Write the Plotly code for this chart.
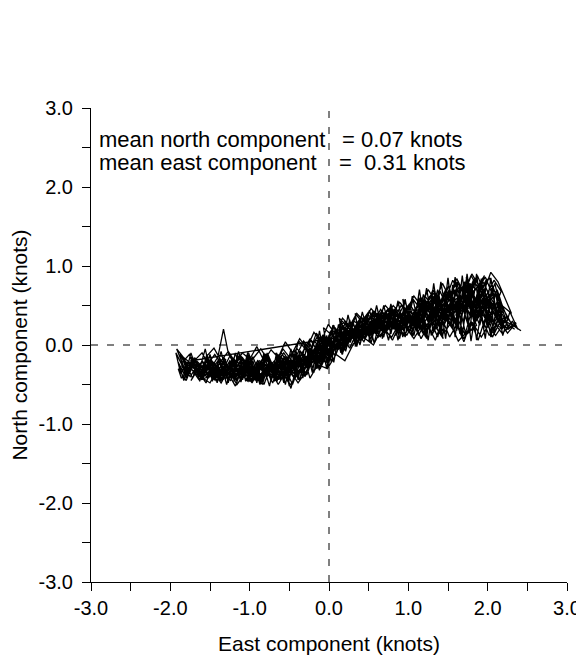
import plotly.graph_objects as go

# ---- data: current velocity components (knots) ----
east_a = [-1.92,-1.85,-1.76,-1.68,-1.6,-1.52,-1.41,-1.33,-1.22,-1.14,-1.03,-0.94,-0.85,-0.74,-0.66,-0.55,-0.46,-0.36,-0.27,-0.18,-0.08,0.03,0.14,0.26,0.37,0.49,0.61,0.72,0.85,0.97,1.1,1.22,1.35,1.47,1.6,1.71,1.83,1.94,2.05,2.12]
north_a = [-0.05,-0.22,-0.12,-0.35,-0.2,-0.42,-0.25,-0.38,-0.18,-0.33,-0.45,-0.28,-0.4,-0.22,-0.36,-0.15,-0.3,-0.08,-0.2,0.05,-0.1,0.15,0.02,0.25,0.12,0.3,0.18,0.38,0.22,0.45,0.28,0.55,0.32,0.65,0.42,0.72,0.5,0.8,0.58,0.7]
east_b = [2.2,2.31,2.18,2.05,1.92,1.81,1.7,1.58,1.45,1.33,1.2,1.08,0.95,0.83,0.7,0.58,0.45,0.33,0.2,0.08,-0.05,-0.17,-0.3,-0.42,-0.53,-0.65,-0.78,-0.9,-1.02,-1.15,-1.27,-1.4,-1.52,-1.63,-1.74,-1.66,-1.55]
north_b = [0.45,0.25,0.15,0.32,0.1,0.28,0.08,0.35,0.15,0.4,0.2,0.35,0.12,0.3,0.18,0.26,0.08,0.2,-0.02,0.1,-0.15,-0.02,-0.25,-0.12,-0.35,-0.2,-0.4,-0.25,-0.46,-0.3,-0.42,-0.2,-0.38,-0.25,-0.45,-0.32,-0.48]
east_c = [-1.48,-1.37,-1.28,-1.16,-1.05,-0.97,-0.88,-0.76,-0.64,-0.52,-0.44,-0.33,-0.21,-0.11,0.0,0.1,0.22,0.35,0.46,0.58,0.7,0.82,0.93,1.05,1.16,1.28,1.4,1.52,1.63,1.75,1.87,1.98,2.08,2.17,2.1]
north_c = [-0.28,-0.45,-0.3,-0.5,-0.35,-0.2,-0.38,-0.28,-0.5,-0.3,-0.42,-0.25,-0.12,-0.3,-0.05,0.08,-0.02,0.2,0.28,0.15,0.35,0.25,0.48,0.3,0.5,0.22,0.68,0.4,0.78,0.55,0.88,0.62,0.82,0.68,0.5]
east_d = [2.0,1.9,1.78,1.86,1.72,1.6,1.65,1.5,1.38,1.44,1.3,1.18,1.05,0.92,0.8,0.68,0.55,0.42,0.3,0.18,0.06,-0.06,-0.19,-0.31,-0.44,-0.56,-0.69,-0.8,-0.92,-1.04,-1.17,-1.29,-1.41,-1.53,-1.64,-1.76,-1.82]
north_d = [0.35,0.6,0.45,0.25,0.12,0.38,0.62,0.5,0.28,0.08,0.3,0.45,0.25,0.4,0.22,0.32,0.15,0.28,0.1,0.22,0.0,0.08,-0.12,-0.05,-0.28,-0.15,-0.32,-0.12,-0.3,-0.2,-0.4,-0.25,-0.35,-0.18,-0.4,-0.28,-0.38]
east_e = [-1.7,-1.6,-1.49,-1.4,-1.33,-1.27,-1.18,-1.08,-0.98,-0.86,-0.77,-0.67,-0.58,-0.5,-0.4,-0.3,-0.24,-0.14,-0.02,0.09,0.2,0.31,0.43,0.56,0.67,0.79,0.9,1.02,1.14,1.26,1.37,1.49,1.61,1.72,1.84,1.95,2.07,2.16,2.24,2.33,2.42,2.3]
north_e = [-0.2,-0.1,-0.3,-0.15,0.2,-0.1,-0.28,-0.18,-0.4,-0.22,-0.12,-0.35,-0.18,-0.52,-0.38,-0.2,-0.42,-0.25,-0.3,-0.12,-0.2,0.02,0.1,0.0,0.22,0.1,0.3,0.18,0.42,0.2,0.6,0.3,0.72,0.45,0.85,0.6,0.3,0.22,0.35,0.24,0.18,0.26]
east_f = [2.22,2.1,1.99,1.88,1.96,1.82,1.7,1.77,1.63,1.52,1.4,1.28,1.16,1.04,0.91,0.79,0.66,0.54,0.41,0.29,0.17,0.04,-0.08,-0.2,-0.32,-0.45,-0.58,-0.7,-0.82,-0.95,-1.08,-1.2,-1.32,-1.44,-1.57,-1.69,-1.79,-1.86]
north_f = [0.3,0.12,0.25,0.72,0.88,0.66,0.42,0.2,0.05,0.3,0.55,0.38,0.6,0.35,0.5,0.28,0.42,0.22,0.35,0.12,0.25,-0.05,0.12,-0.1,0.05,-0.22,-0.05,-0.3,-0.15,-0.35,-0.22,-0.42,-0.3,-0.12,-0.3,-0.18,-0.32,-0.42]
east_g = [-1.9,-1.8,-1.72,-1.62,-1.5,-1.42,-1.3,-1.2,-1.1,-0.99,-0.9,-0.8,-0.71,-0.62,-0.51,-0.39,-0.28,-0.16,-0.04,0.07,0.19,0.32,0.44,0.55,0.68,0.81,0.94,1.06,1.19,1.31,1.43,1.56,1.68,1.8,1.92,2.02,2.12,2.2]
north_g = [-0.3,-0.45,-0.25,-0.4,-0.48,-0.32,-0.42,-0.25,-0.15,-0.28,-0.45,-0.3,-0.48,-0.22,-0.3,-0.48,-0.32,-0.15,-0.22,0.05,0.18,0.3,0.2,0.42,0.28,0.5,0.35,0.58,0.4,0.7,0.48,0.82,0.58,0.9,0.7,0.85,0.6,0.45]
east_h = [2.08,1.97,1.85,1.74,1.62,1.51,1.39,1.27,1.15,1.03,0.9,0.78,0.65,0.52,0.4,0.28,0.15,0.02,-0.1,-0.22,-0.35,-0.47,-0.6,-0.72,-0.85,-0.97,-1.1,-1.22,-1.35,-1.47,-1.6,-1.72,-1.84,-1.92]
north_h = [0.2,0.48,0.3,0.55,0.35,0.75,0.45,0.62,0.3,0.5,0.15,0.38,0.1,0.3,0.05,0.22,-0.05,0.18,-0.2,-0.05,-0.28,-0.12,-0.25,-0.42,-0.2,-0.48,-0.3,-0.2,-0.45,-0.35,-0.2,-0.42,-0.15,-0.05]
east_i = [-1.8,-1.68,-1.58,-1.46,-1.35,-1.24,-1.12,-1.0,-0.89,-0.78,-0.68,-0.57,-0.47,-0.38,-0.26,-0.15,-0.05,0.05,0.16,0.28,0.4,0.53,0.65,0.77,0.89,1.01,1.13,1.25,1.37,1.48,1.6,1.72,1.84,1.96,2.06,2.15,2.26,2.36]
north_i = [-0.35,-0.2,-0.38,-0.22,-0.35,-0.45,-0.2,-0.32,-0.22,-0.38,-0.25,-0.1,-0.25,0.05,-0.1,0.1,-0.15,0.25,0.1,0.15,0.35,0.22,0.45,0.3,0.2,0.42,0.12,0.38,0.1,0.55,0.25,0.65,0.35,0.78,0.5,0.3,0.2,0.28]
east_j = [2.25,2.14,2.02,1.9,1.79,1.67,1.55,1.43,1.31,1.19,1.07,0.95,0.82,0.7,0.57,0.45,0.32,0.2,0.08,-0.04,-0.16,-0.28,-0.4,-0.52,-0.64,-0.76,-0.88,-1.0,-1.12,-1.25,-1.37,-1.5,-1.62,-1.74]
north_j = [0.15,0.32,0.12,0.4,0.18,0.5,0.22,0.45,0.15,0.28,0.08,0.25,0.35,0.15,0.4,0.25,0.1,0.3,0.18,-0.02,0.15,-0.2,-0.05,-0.15,-0.42,-0.28,-0.2,-0.42,-0.12,-0.3,-0.22,-0.4,-0.28,-0.15]
east_k = [-1.62,-1.51,-1.39,-1.3,-1.19,-1.07,-0.96,-0.84,-0.73,-0.61,-0.49,-0.37,-0.25,-0.13,-0.01,0.11,0.23,0.36,0.48,0.6,0.72,0.84,0.96,1.09,1.21,1.33,1.45,1.57,1.69,1.81,1.93,2.04,2.13,2.22,2.3]
north_k = [-0.4,-0.25,-0.38,-0.28,-0.42,-0.3,-0.15,-0.45,-0.28,-0.4,-0.2,-0.35,-0.15,0.0,-0.18,0.2,0.05,0.12,0.3,0.4,0.2,0.28,0.45,0.25,0.62,0.45,0.25,0.52,0.3,0.75,0.62,0.92,0.8,0.58,0.4]
east_l = [2.18,2.05,1.94,1.83,1.71,1.59,1.47,1.35,1.23,1.11,0.99,0.87,0.74,0.61,0.49,0.37,0.24,0.12,0.0,-0.12,-0.24,-0.36,-0.48,-0.6,-0.73,-0.86,-0.98,-1.11,-1.23,-1.36,-1.48,-1.6,-1.72]
north_l = [0.5,0.2,0.6,0.28,0.8,0.5,0.7,0.42,0.55,0.18,0.35,0.15,0.45,0.3,0.38,0.05,0.15,-0.05,0.05,-0.12,0.08,-0.15,-0.3,-0.1,-0.25,-0.05,-0.2,-0.38,-0.25,-0.48,-0.3,-0.42,-0.25]
east_m = [-1.88,-1.8,-1.71,-1.63,-1.54,-1.46,-1.37,-1.29,-1.2,-1.11,-1.02,-0.93,-0.84,-0.75,-0.66,-0.57,-0.48,-0.39,-0.3,-0.21,-0.12,-0.03,0.06,0.15,0.24,0.33,0.42,0.51,0.6,0.69,0.78,0.87,0.96,1.05,1.14,1.23,1.32,1.41,1.5,1.59]
north_m = [-0.12,-0.42,-0.18,-0.46,-0.14,-0.44,-0.2,-0.5,-0.16,-0.47,-0.12,-0.45,-0.22,-0.52,-0.1,-0.48,-0.05,-0.44,0.02,-0.35,0.18,-0.3,0.25,-0.1,0.38,0.0,0.42,0.08,0.5,0.1,0.52,0.06,0.58,0.1,0.7,0.08,0.78,0.12,0.85,0.1]
east_n = [1.68,1.77,1.86,1.95,2.04,2.12,2.05,1.97,1.88,1.79,1.7,1.61,1.52,1.43,1.34,1.25,1.16,1.07,0.98,0.89,0.8,0.71,0.62,0.53,0.44,0.35,0.26,0.17,0.08,-0.01,-0.1,-0.19,-0.28,-0.37,-0.46,-0.55,-0.64,-0.73,-0.82,-0.91]
north_n = [0.88,0.15,0.9,0.2,0.85,0.35,0.72,0.08,0.62,0.05,0.8,0.18,0.7,0.1,0.66,0.06,0.55,0.12,0.5,0.08,0.45,0.15,0.42,0.02,0.35,-0.02,0.32,-0.12,0.22,-0.28,0.1,-0.35,-0.02,-0.45,-0.08,-0.5,-0.12,-0.46,-0.1,-0.48]
east_o = [-1.0,-1.09,-1.18,-1.27,-1.36,-1.45,-1.54,-1.63,-1.72,-1.81,-1.9,-1.83,-1.74,-1.65,-1.56,-1.47,-1.38,-1.29,-1.2,-1.11,-1.02,-0.93,-0.84,-0.75,-0.66,-0.57,-0.48,-0.39,-0.3,-0.21,-0.12,-0.03,0.06,0.15,0.24,0.33]
north_o = [-0.14,-0.44,-0.1,-0.48,-0.08,-0.4,-0.12,-0.45,-0.15,-0.4,-0.22,-0.45,-0.1,-0.38,-0.05,-0.46,-0.16,-0.5,-0.2,-0.42,-0.08,-0.36,-0.5,-0.18,-0.44,-0.26,-0.55,-0.2,-0.4,-0.06,-0.32,0.12,-0.22,0.3,0.02,0.36]
east_p = [0.42,0.51,0.6,0.69,0.78,0.87,0.96,1.05,1.14,1.23,1.32,1.41,1.5,1.59,1.68,1.77,1.86,1.95,2.04,2.13,2.22,2.31,2.38,2.28,2.19,2.1,2.01,1.92,1.83,1.74,1.65,1.56,1.47,1.38,1.29,1.2,1.11,1.02]
north_p = [0.06,0.44,0.12,0.5,0.14,0.56,0.1,0.62,0.2,0.72,0.16,0.8,0.26,0.86,0.12,0.78,0.06,0.62,0.1,0.55,0.18,0.3,0.2,0.42,0.12,0.66,0.22,0.84,0.3,0.9,0.14,0.76,0.08,0.68,0.12,0.6,0.22,0.48]
east_q = [0.93,0.84,0.75,0.66,0.57,0.48,0.39,0.3,0.21,0.12,0.03,-0.06,-0.15,-0.24,-0.33,-0.42,-0.51,-0.6,-0.69,-0.78,-0.87,-0.96,-1.05,-1.14,-1.23,-1.32,-1.41,-1.5,-1.59,-1.68,-1.77,-1.86]
north_q = [0.1,0.46,0.06,0.4,0.02,0.38,0.0,0.3,-0.08,0.26,-0.22,0.14,-0.3,0.02,-0.42,-0.06,-0.48,-0.14,-0.44,-0.1,-0.5,-0.2,-0.46,-0.08,-0.42,-0.16,-0.48,-0.12,-0.44,-0.2,-0.38,-0.14]
east_r = [-1.78,-1.69,-1.6,-1.51,-1.42,-1.33,-1.24,-1.15,-1.06,-0.97,-0.88,-0.79,-0.7,-0.61,-0.52,-0.43,-0.34,-0.25,-0.16,-0.07,0.02,0.11,0.2,0.29,0.38,0.47,0.56,0.65,0.74,0.83,0.92,1.01,1.1,1.19,1.28,1.37,1.46,1.55,1.64,1.73,1.82,1.91,2.0,2.09,2.18]
north_r = [-0.3,-0.16,-0.42,-0.26,-0.46,-0.3,-0.12,-0.36,-0.24,-0.48,-0.3,-0.14,-0.4,-0.28,-0.46,-0.16,-0.3,-0.08,-0.26,0.06,-0.12,0.16,0.04,0.28,0.14,0.34,0.2,0.4,0.26,0.46,0.3,0.52,0.24,0.64,0.36,0.7,0.3,0.62,0.44,0.82,0.38,0.7,0.52,0.78,0.4]
east_s = [2.26,2.17,2.08,1.99,1.9,1.81,1.72,1.63,1.54,1.45,1.36,1.27,1.18,1.09,1.0,0.91,0.82,0.73,0.64,0.55,0.46,0.37,0.28,0.19,0.1,0.01,-0.08,-0.17,-0.26,-0.35,-0.44,-0.53,-0.62,-0.71,-0.8,-0.89,-0.98,-1.07,-1.16,-1.25,-1.34,-1.43,-1.52]
north_s = [0.22,0.5,0.16,0.6,0.25,0.48,0.15,0.56,0.3,0.46,0.2,0.52,0.28,0.4,0.22,0.36,0.28,0.18,0.32,0.24,0.12,0.28,0.08,0.16,-0.04,0.08,-0.16,-0.04,-0.24,-0.12,-0.32,-0.2,-0.36,-0.26,-0.34,-0.22,-0.38,-0.26,-0.34,-0.2,-0.36,-0.28,-0.32]
east_t = [-1.44,-1.35,-1.26,-1.17,-1.08,-0.99,-0.9,-0.81,-0.72,-0.63,-0.54,-0.45,-0.36,-0.27,-0.18,-0.09,0.0,0.09,0.18,0.27,0.36,0.45,0.54,0.63,0.72,0.81,0.9,0.99,1.08,1.17,1.26,1.35,1.44,1.53,1.62,1.71,1.8,1.89,1.98,2.07]
north_t = [-0.24,-0.34,-0.22,-0.4,-0.26,-0.36,-0.2,-0.32,-0.24,-0.38,-0.22,-0.3,-0.16,-0.26,-0.06,-0.14,0.02,-0.04,0.12,0.06,0.2,0.14,0.26,0.2,0.3,0.24,0.36,0.28,0.42,0.32,0.46,0.34,0.5,0.38,0.52,0.42,0.56,0.4,0.6,0.44]
east_u = [2.15,2.06,1.97,1.88,1.79,1.7,1.61,1.52,1.43,1.34,1.25,1.16,1.07,0.98,0.89,0.8,0.71,0.62,0.53,0.44,0.35,0.26,0.17,0.08,-0.01,-0.1,-0.19,-0.28,-0.37,-0.46,-0.55,-0.64,-0.73,-0.82,-0.91,-1.0,-1.09,-1.18,-1.27,-1.36]
north_u = [0.28,0.1,0.34,0.06,0.3,0.04,0.26,0.1,0.32,0.06,0.24,0.08,0.3,0.12,0.26,0.06,0.2,0.1,0.24,0.04,0.16,-0.04,0.1,-0.14,0.0,-0.26,-0.12,-0.38,-0.24,-0.5,-0.3,-0.44,-0.26,-0.5,-0.32,-0.46,-0.28,-0.52,-0.36,-0.44]
east_v = [-1.54,-1.45,-1.36,-1.27,-1.18,-1.09,-1.0,-0.91,-0.82,-0.73,-0.64,-0.55,-0.46,-0.37,-0.28,-0.19,-0.1,-0.01,0.08,0.17,0.26,0.35,0.44,0.53,0.62,0.71,0.8,0.89,0.98,1.07,1.16,1.25,1.34,1.43,1.52,1.61,1.7,1.79,1.88,1.97,2.06]
north_v = [-0.14,-0.04,-0.2,-0.08,-0.22,-0.1,-0.18,-0.02,-0.2,-0.06,-0.16,0.04,-0.1,0.08,-0.04,0.16,0.04,0.26,0.14,0.34,0.24,0.4,0.3,0.46,0.36,0.5,0.4,0.54,0.44,0.62,0.5,0.7,0.56,0.78,0.6,0.84,0.66,0.88,0.72,0.86,0.64]
east_w = [1.98,1.89,1.8,1.71,1.62,1.53,1.44,1.35,1.26,1.17,1.08,0.99,0.9,0.81,0.72,0.63,0.54,0.45,0.36,0.27,0.18,0.09,0.0,-0.09,-0.18,-0.27,-0.36,-0.45,-0.54,-0.63,-0.72,-0.81,-0.9,-0.99,-1.08,-1.17,-1.26,-1.35,-1.44,-1.53,-1.62,-1.71]
north_w = [0.5,0.36,0.64,0.42,0.58,0.36,0.62,0.4,0.5,0.3,0.44,0.26,0.38,0.2,0.34,0.16,0.3,0.1,0.24,0.06,0.14,-0.06,0.06,-0.18,-0.08,-0.3,-0.18,-0.36,-0.22,-0.4,-0.28,-0.38,-0.24,-0.4,-0.3,-0.44,-0.28,-0.38,-0.24,-0.42,-0.3,-0.36]
east_x = [-1.66,-1.52,-1.61,-1.43,-1.3,-1.38,-1.21,-1.05,-1.13,-0.96,-0.8,-0.88,-0.7,-0.55,-0.63,-0.44,-0.3,-0.38,-0.18,-0.04,-0.12,0.08,0.22,0.14,0.34,0.5,0.42,0.62,0.78,0.7,0.9,1.06,0.98,1.18,1.34,1.26,1.46,1.62,1.54,1.74,1.9,1.82,2.02,2.14]
north_x = [-0.32,-0.2,-0.44,-0.36,-0.18,-0.46,-0.3,-0.4,-0.16,-0.34,-0.24,-0.46,-0.3,-0.38,-0.14,-0.28,-0.4,-0.12,-0.18,0.1,-0.2,0.04,0.3,0.16,0.2,0.42,0.12,0.3,0.48,0.2,0.36,0.58,0.26,0.46,0.68,0.3,0.54,0.8,0.36,0.6,0.76,0.32,0.52,0.3]
east_ac = [2.24,2.13,2.19,2.04,1.93,1.99,1.84,1.73,1.79,1.64,1.53,1.59,1.44,1.33,1.39,1.24,1.13,1.19,1.04,0.93,0.99,0.84,0.73,0.79,0.64,0.53,0.59,0.44,0.33,0.39,0.24,0.13,0.19,0.04,-0.07,-0.01,-0.16,-0.27,-0.21,-0.36,-0.47,-0.41,-0.56,-0.67,-0.61,-0.76,-0.87,-0.81,-0.96,-1.07]
north_ac = [0.36,0.64,0.2,0.46,0.74,0.3,0.56,0.86,0.38,0.6,0.26,0.7,0.44,0.18,0.56,0.36,0.6,0.14,0.4,0.58,0.2,0.44,0.26,0.5,0.3,0.12,0.44,0.26,0.4,0.06,0.22,0.34,-0.04,0.12,0.22,-0.14,0.0,-0.3,-0.1,-0.26,-0.08,-0.4,-0.22,-0.1,-0.44,-0.3,-0.5,-0.16,-0.34,-0.2]
east_ad = [-1.15,-1.24,-1.32,-1.41,-1.49,-1.58,-1.66,-1.75,-1.84,-1.93,-1.87,-1.78,-1.7,-1.61,-1.52,-1.43,-1.35,-1.26,-1.17,-1.09,-1.0,-0.92,-0.83,-0.74,-0.66,-0.57,-0.49,-0.4,-0.32,-0.23,-0.15,-0.06,0.02,0.11,0.2,0.28,0.37,0.45,0.54,0.63,0.71,0.8,0.89,0.97,1.06,1.15,1.24,1.33,1.42,1.51,1.6,1.69,1.78,1.87,1.96,2.05]
north_ad = [-0.36,-0.22,-0.4,-0.3,-0.18,-0.34,-0.26,-0.4,-0.28,-0.1,-0.36,-0.22,-0.3,-0.42,-0.24,-0.34,-0.44,-0.26,-0.38,-0.16,-0.3,-0.44,-0.34,-0.2,-0.3,-0.4,-0.26,-0.14,-0.3,-0.18,-0.26,-0.06,-0.16,0.06,-0.02,0.2,0.1,0.3,0.18,0.36,0.24,0.46,0.3,0.38,0.2,0.5,0.32,0.58,0.36,0.66,0.42,0.6,0.78,0.5,0.68,0.48]
east_z = [0.97,0.93,1.05,1.14,1.1,1.22,1.31,1.27,1.39,1.48,1.44,1.56,1.65,1.61,1.73,1.82,1.78,1.9,1.99,1.95,2.07,2.16,2.12,2.2,2.11,2.03,2.07,1.94,1.86,1.9,1.77,1.69,1.73,1.6,1.52,1.56,1.43,1.35,1.39,1.26,1.18,1.22,1.09,1.01]
north_z = [0.44,0.2,0.36,0.52,0.24,0.44,0.62,0.3,0.5,0.7,0.34,0.56,0.76,0.4,0.6,0.82,0.46,0.66,0.84,0.5,0.7,0.56,0.36,0.28,0.46,0.62,0.3,0.5,0.72,0.38,0.58,0.78,0.42,0.64,0.46,0.2,0.4,0.6,0.26,0.48,0.3,0.1,0.36,0.18]
east_aa = [0.92,0.84,0.88,0.76,0.67,0.71,0.59,0.5,0.54,0.42,0.33,0.37,0.25,0.16,0.2,0.08,-0.01,0.03,-0.09,-0.18,-0.14,-0.26,-0.35,-0.31,-0.43,-0.52,-0.48,-0.6,-0.69,-0.65,-0.77,-0.86,-0.82,-0.94,-1.03,-0.99,-1.11,-1.2,-1.16,-1.28,-1.37,-1.33,-1.45,-1.54,-1.5,-1.62,-1.71,-1.67,-1.79]
north_aa = [0.3,0.12,0.4,0.26,0.08,0.34,0.2,0.04,0.3,0.16,-0.02,0.22,0.06,-0.12,0.12,-0.04,-0.22,0.06,-0.12,-0.3,-0.04,-0.2,-0.38,-0.12,-0.28,-0.44,-0.18,-0.32,-0.46,-0.2,-0.36,-0.24,-0.44,-0.3,-0.14,-0.4,-0.26,-0.46,-0.2,-0.34,-0.24,-0.44,-0.3,-0.16,-0.38,-0.26,-0.4,-0.2,-0.3]
east_y = [-1.86,-1.79,-1.83,-1.72,-1.64,-1.69,-1.57,-1.48,-1.53,-1.41,-1.33,-1.37,-1.25,-1.16,-1.2,-1.08,-0.99,-1.03,-0.91,-0.82,-0.86,-0.74,-0.65,-0.69,-0.57,-0.48,-0.52,-0.4,-0.31,-0.35,-0.23,-0.14,-0.18,-0.06,0.03,-0.01,0.11,0.2,0.16,0.28,0.37,0.33,0.45,0.54,0.5,0.62,0.71,0.67,0.79,0.88]
north_y = [-0.26,-0.38,-0.18,-0.32,-0.44,-0.24,-0.36,-0.2,-0.42,-0.3,-0.4,-0.18,-0.34,-0.46,-0.26,-0.38,-0.2,-0.44,-0.32,-0.42,-0.2,-0.36,-0.46,-0.24,-0.4,-0.2,-0.36,-0.28,-0.12,-0.34,-0.2,-0.02,-0.24,-0.08,0.08,-0.16,0.02,0.2,-0.02,0.14,0.3,0.06,0.24,0.36,0.12,0.3,0.42,0.16,0.34,0.22]
east_ab = [-1.74,-1.63,-1.55,-1.44,-1.36,-1.25,-1.17,-1.06,-0.98,-0.87,-0.79,-0.68,-0.6,-0.49,-0.41,-0.3,-0.22,-0.11,-0.03,0.08,0.16,0.27,0.35,0.46,0.54,0.65,0.73,0.84,0.92,1.03,1.11,1.22,1.3,1.41,1.49,1.6,1.68,1.79,1.87,1.98,2.06,2.17,2.25,2.34]
north_ab = [-0.2,-0.34,-0.26,-0.44,-0.32,-0.22,-0.4,-0.3,-0.46,-0.28,-0.36,-0.22,-0.42,-0.34,-0.2,-0.3,-0.1,-0.22,0.04,-0.06,0.14,0.04,0.26,0.16,0.32,0.22,0.4,0.18,0.32,0.14,0.3,0.12,0.42,0.22,0.5,0.28,0.62,0.34,0.66,0.4,0.52,0.34,0.26,0.2]

mean_north = 0.07
mean_east = 0.31

tick_vals = [-3.0, -2.5, -2.0, -1.5, -1.0, -0.5, 0.0, 0.5, 1.0, 1.5, 2.0, 2.5, 3.0]
tick_text = ["-3.0", "", "-2.0", "", "-1.0", "", "0.0", "", "1.0", "", "2.0", "", "3.0"]

east = (east_a + east_b + east_c + east_d + east_e + east_f + east_g + east_h +
        east_i + east_j + east_k + east_l + east_m + east_n + east_o + east_p +
        east_q + east_r + east_s + east_t + east_u + east_v + east_w + east_x +
        east_ac + east_ad + east_z + east_aa + east_y + east_ab)
north = (north_a + north_b + north_c + north_d + north_e + north_f + north_g + north_h +
         north_i + north_j + north_k + north_l + north_m + north_n + north_o + north_p +
         north_q + north_r + north_s + north_t + north_u + north_v + north_w + north_x +
         north_ac + north_ad + north_z + north_aa + north_y + north_ab)

FONT = "Liberation Sans, Arial, Helvetica, sans-serif"

fig = go.Figure()
fig.add_trace(go.Scatter(
    x=east, y=north, mode="lines",
    line=dict(color="black", width=1.3),
    hoverinfo="skip", showlegend=False,
))

axis_common = dict(
    range=[-3, 3], tickmode="array", tickvals=tick_vals, ticktext=tick_text,
    ticks="outside", ticklen=8, tickwidth=1, tickcolor="black",
    showline=True, linecolor="black", linewidth=1,
    showgrid=False, zeroline=False, mirror=False, automargin=False,
    tickfont=dict(family=FONT, size=20, color="black"),
    fixedrange=True,
)

fig.update_layout(
    template="none",
    width=576, height=652,
    margin=dict(l=83, r=17, t=100, b=78),
    paper_bgcolor="white", plot_bgcolor="white",
    font=dict(family=FONT, size=20, color="black"),
    xaxis=dict(**axis_common,
               title=dict(text="East component (knots)", standoff=18,
                          font=dict(family=FONT, size=21))),
    yaxis=dict(**axis_common, ticklabelstandoff=5,
               title=dict(text="North component (knots)", standoff=10,
                          font=dict(family=FONT, size=21))),
    shapes=[
        dict(type="line", xref="x", yref="y", x0=0, x1=0, y0=-3, y1=3,
             line=dict(color="black", width=1, dash="7px,9px"), layer="below"),
        dict(type="line", xref="x", yref="y", x0=-3, x1=3, y0=0, y1=0,
             line=dict(color="black", width=1, dash="7px,9px"), layer="below"),
    ],
    annotations=[
        dict(x=-2.92, y=2.6, xref="x", yref="y", text="mean north component",
             showarrow=False, xanchor="left", yanchor="middle",
             font=dict(family=FONT, size=22)),
        dict(x=0.14, y=2.6, xref="x", yref="y",
             text="= %.2f knots" % mean_north,
             showarrow=False, xanchor="left", yanchor="middle",
             font=dict(family=FONT, size=22)),
        dict(x=-2.92, y=2.31, xref="x", yref="y", text="mean east component",
             showarrow=False, xanchor="left", yanchor="middle",
             font=dict(family=FONT, size=22)),
        dict(x=0.10, y=2.31, xref="x", yref="y",
             text="=\u00a0\u00a0%.2f knots" % mean_east,
             showarrow=False, xanchor="left", yanchor="middle",
             font=dict(family=FONT, size=22)),
    ],
)

fig.write_html("out.html")
